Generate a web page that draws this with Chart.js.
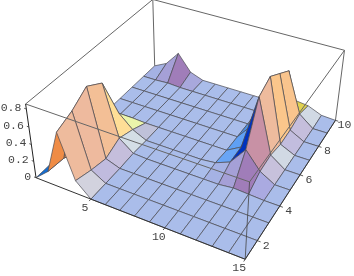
<!DOCTYPE html>
<html>
<head>
<meta charset="utf-8">
<script src="https://cdn.jsdelivr.net/npm/chart.js@4"></script>
<style>
  html, body { margin: 0; padding: 0; background: #fff; }
  canvas { display: block; }
</style>
</head>
<body>
<canvas id="surface" width="354" height="276"></canvas>
<script>
"use strict"

const xValues = [1, 2, 3, 4, 5, 6, 7, 8, 9, 10, 11, 12, 13, 14, 15];
const yValues = [1, 2, 3, 4, 5, 6, 7, 8, 9, 10];
const zTop = 0.855;

// one row per y value
const zRow1  = [0, 0.14, 0.655, 0.157, 0, 0, 0, 0, 0, 0, 0, 0, 0, 0, 0];
const zRow2  = [0, 0.12, 0.73, 0.1, 0, 0, 0, 0, 0, 0, 0, 0, 0, 0, 0];
const zRow3  = [0, 0.03, 0.85, 0.06, 0, 0, 0, 0, 0, 0, 0, 0, 0, 0, 0];
const zRow4  = [0, 0.01, 0.74, 0.14, 0.01, 0, 0, 0, 0, 0, 0, 0.02, 0.01, 0, 0];
const zRow5  = [0, 0, 0.23, 0.08, 0, 0, 0, 0, 0, 0.02, 0.09, 0.3, 0.1, 0, 0];
const zRow6  = [0, 0, 0.01, 0, 0, 0, 0, 0, 0, 0, 0.1, 0.75, 0.12, 0, 0];
const zRow7  = [0, 0, 0, 0, 0, 0, 0, 0, 0, 0, 0.2, 0.83, 0.08, 0, 0];
const zRow8  = [0, 0, 0, 0, 0, 0, 0, 0, 0, 0, 0.03, 0.72, 0.09, 0, 0];
const zRow9  = [0, 0, 0.01, 0, 0, 0, 0, 0, 0, 0, 0, 0.61, 0.13, 0, 0];
const zRow10 = [0, 0.08, 0.26, 0.06, 0, 0, 0, 0, 0, 0, 0, 0.1, 0.08, 0.01, 0];
const zRows = [zRow1, zRow2, zRow3, zRow4, zRow5, zRow6, zRow7, zRow8, zRow9, zRow10];

const xTicks = [5, 10, 15];
const yTicks = [2, 4, 6, 8, 10];
const zTicks = [0, 0.2, 0.4, 0.6, 0.8];

// ------------------ camera, fitted to the box corners -------------------------
const boxCorners = [
  [1, 1, 0, 36.7, 178.7], [15, 1, 0, 245.3, 259.7], [15, 10, 0, 335, 120], [1, 10, 0, 154.5, 65],
  [1, 1, zTop, 25.3, 103.3], [15, 1, zTop, 249, 181], [15, 10, zTop, 345.3, 51], [1, 10, zTop, 152.7, 0],
];

const unit = (x, y, z) => [(x - 1) / 14, (y - 1) / 9, z / zTop];

function solveCamera() {
  const rows = [];
  boxCorners.forEach(([x, y, z, px, py]) => {
    const [a, b, c] = unit(x, y, z);
    rows.push([a, b, c, 1, 0, 0, 0, 0, -px * a, -px * b, -px * c, px]);
    rows.push([0, 0, 0, 0, a, b, c, 1, -py * a, -py * b, -py * c, py]);
  });
  const n = 11;
  const m = [];
  for (let i = 0; i < n; i++) {
    m.push([]);
    for (let j = 0; j <= n; j++) {
      m[i].push(rows.reduce((sum, r) => sum + r[i] * r[j], 0));
    }
  }
  for (let i = 0; i < n; i++) {
    let best = i;
    for (let k = i + 1; k < n; k++) {
      if (Math.abs(m[k][i]) > Math.abs(m[best][i])) best = k;
    }
    [m[i], m[best]] = [m[best], m[i]];
    for (let k = 0; k < n; k++) {
      if (k === i) continue;
      const f = m[k][i] / m[i][i];
      for (let j = i; j <= n; j++) m[k][j] -= f * m[i][j];
    }
  }
  return m.map((r, i) => r[n] / r[i]);
}

const cam = solveCamera();

function project(x, y, z) {
  const [a, b, c] = unit(x, y, z);
  const w = cam[8] * a + cam[9] * b + cam[10] * c + 1;
  return {
    x: (cam[0] * a + cam[1] * b + cam[2] * c + cam[3]) / w,
    y: (cam[4] * a + cam[5] * b + cam[6] * c + cam[7]) / w,
  };
}

// ------------------ face colour from the normal -------------------------
const shades = [
  [0, 0, 170, 189, 234],
  [0.96, 0, 230, 180, 165],
  [0.98, -0.04, 238, 186, 158],
  [0.976, 0.01, 245, 195, 150],
  [0.975, 0.04, 255, 200, 130],
  [0.96, 0.08, 255, 205, 140],
  [0.83, 0.41, 255, 222, 150],
  [0.72, 0.53, 225, 210, 80],
  [0.38, 0.47, 235, 245, 170],
  [0.56, 0.12, 212, 222, 230],
  [0.64, 0.09, 210, 210, 222],
  [0.46, 0.05, 192, 187, 222],
  [0.54, -0.1, 197, 190, 220],
  [0.33, -0.19, 170, 170, 225],
  [0.19, -0.12, 168, 168, 220],
  [0.9, -0.33, 200, 145, 165],
  [0.47, -0.5, 160, 125, 185],
  [-0.43, -0.52, 165, 160, 215],
  [-0.25, -0.16, 165, 178, 228],
  [-0.48, 0, 105, 165, 245],
  [-0.69, -0.14, 95, 160, 245],
  [-0.65, 0, 20, 110, 210],
  [-0.9, -0.31, 0, 50, 190],
  [-0.96, -0.08, 240, 140, 70],
];

function faceColor(i, j) {
  const dx = (zRows[j][i + 1] + zRows[j + 1][i + 1] - zRows[j][i] - zRows[j + 1][i]) / 2;
  const dy = (zRows[j + 1][i] + zRows[j + 1][i + 1] - zRows[j][i] - zRows[j][i + 1]) / 2;
  const sx = dx * 6.5;
  const sy = dy * 4.2;
  const len = Math.hypot(sx, sy, 1);
  const nx = -sx / len;
  const ny = -sy / len;
  let total = 0;
  const rgb = [0, 0, 0];
  shades.forEach((s) => {
    const weight = 1 / (Math.pow(Math.hypot(nx - s[0], ny - s[1]), 4) + 1e-6);
    total += weight;
    rgb[0] += weight * s[2];
    rgb[1] += weight * s[3];
    rgb[2] += weight * s[4];
  });
  return `rgb(${Math.round(rgb[0] / total)},${Math.round(rgb[1] / total)},${Math.round(rgb[2] / total)})`;
}

// ------------------ datasets, painted back to front -------------------------
const painted = [];

function addEdge(a, b, color, width) {
  painted.push({
    data: [project(...a), project(...b)],
    showLine: true,
    borderColor: color,
    borderWidth: width,
    pointRadius: 0,
    fill: false,
  });
}

const boxColor = "#666";
addEdge([1, 10, 0], [1, 10, zTop], boxColor, 1);
addEdge([1, 10, zTop], [1, 1, zTop], boxColor, 1);
addEdge([1, 10, zTop], [15, 10, zTop], boxColor, 1);
addEdge([15, 10, 0], [15, 10, zTop], boxColor, 1);

for (let i = 0; i < xValues.length - 1; i++) {
  for (let j = yValues.length - 2; j >= 0; j--) {
    const corners = [[i, j], [i + 1, j], [i + 1, j + 1], [i, j + 1], [i, j]];
    painted.push({
      data: corners.map(([a, b]) => project(xValues[a], yValues[b], zRows[b][a])),
      showLine: true,
      fill: "shape",
      backgroundColor: faceColor(i, j),
      borderColor: "#4a4a52",
      borderWidth: 0.7,
      pointRadius: 0,
      tension: 0,
    });
  }
}

addEdge([1, 1, zTop], [15, 1, zTop], boxColor, 1);
addEdge([15, 1, zTop], [15, 10, zTop], boxColor, 1);
addEdge([15, 1, 0], [15, 1, zTop], "#444", 0.8);
addEdge([1, 1, 0], [1, 1, zTop], "#222", 1);
addEdge([1, 1, 0], [15, 1, 0], "#333", 1);
addEdge([15, 1, 0], [15, 10, 0], "#333", 1);

xTicks.forEach((t) => addEdge([t, 1, 0], [t, 0.88, 0], "#333", 0.8));
yTicks.forEach((t) => addEdge([15, t, 0], [15.2, t, 0], "#333", 0.8));
zTicks.forEach((t) => addEdge([1, 1, t], [0.85, 1, t], "#333", 0.8));

// ------------------ tick labels -------------------------
const tickLabels = {
  id: "tickLabels",
  afterDraw(chart) {
    const { ctx, scales } = chart;
    const put = (text, p, dx, dy, align) => {
      ctx.textAlign = align;
      ctx.fillText(text, scales.x.getPixelForValue(p.x) + dx, scales.y.getPixelForValue(p.y) + dy);
    };
    ctx.save();
    ctx.font = "11.5px 'Liberation Mono'";
    ctx.fillStyle = "#444";
    ctx.textBaseline = "middle";
    xTicks.forEach((t) => put(String(t), project(t, 1, 0), -6, 9, "center"));
    yTicks.forEach((t) => put(String(t), project(15, t, 0), 9, 5, "center"));
    zTicks.forEach((t) => put(String(t), project(1, 1, t), -5, -1, "right"));
    ctx.restore();
  },
};

new Chart(document.querySelector("#surface"), {
  type: "scatter",
  data: { datasets: painted.slice().reverse() },
  plugins: [tickLabels],
  options: {
    responsive: false,
    animation: false,
    layout: { padding: 0 },
    scales: {
      x: { type: "linear", min: 0, max: 354, display: false },
      y: { type: "linear", min: 0, max: 276, reverse: true, display: false },
    },
    plugins: { legend: { display: false }, tooltip: { enabled: false } },
  },
});
</script>
</body>
</html>
